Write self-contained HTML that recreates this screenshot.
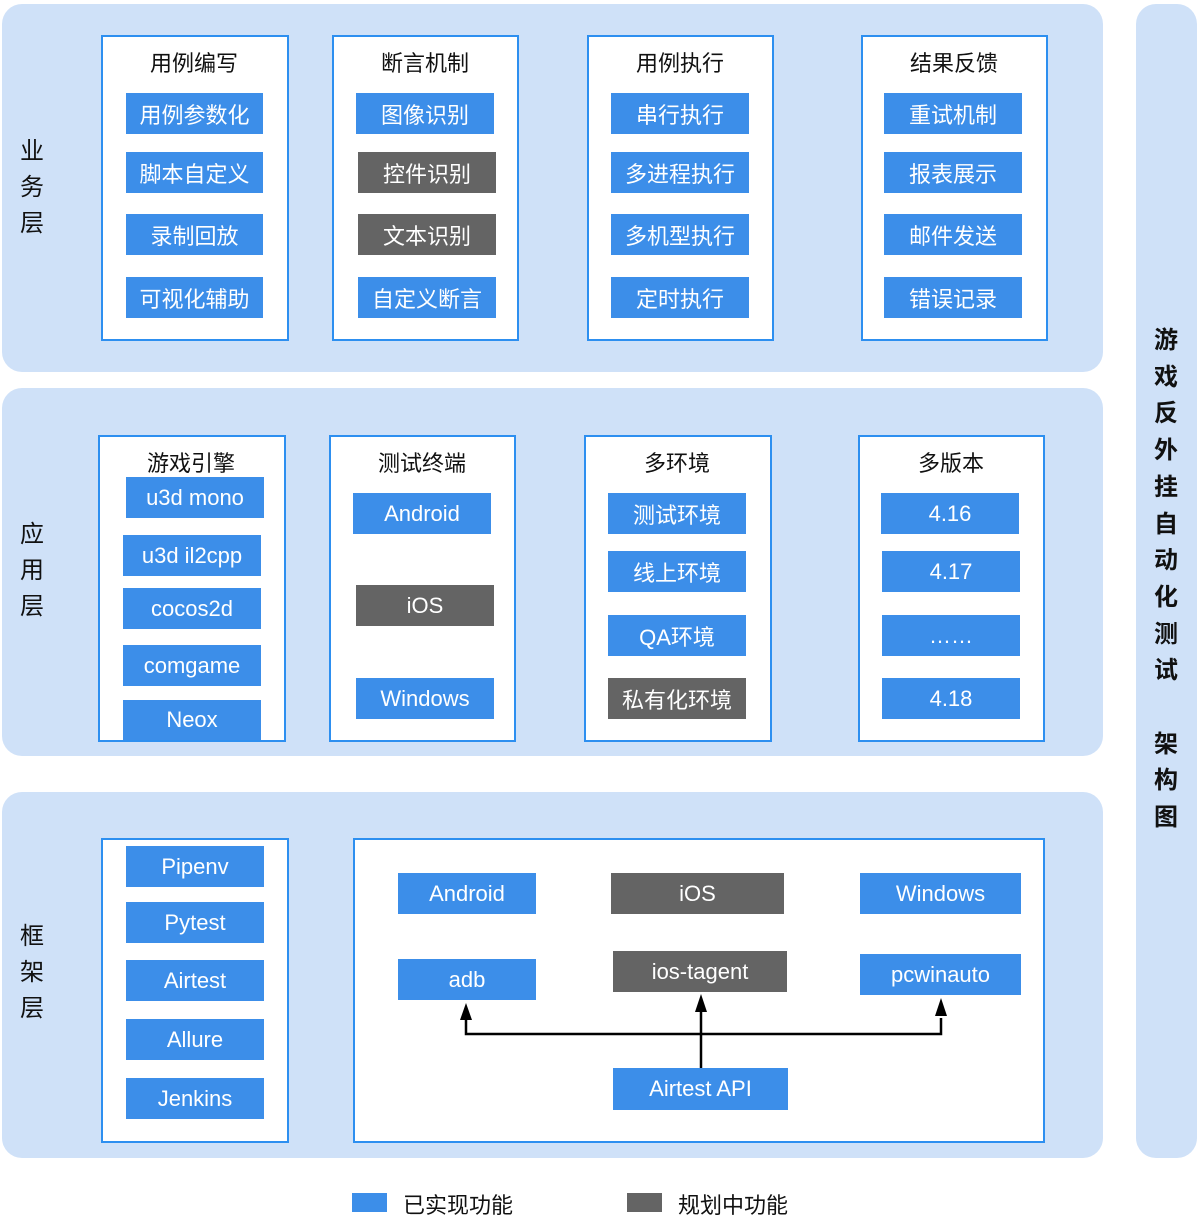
<!DOCTYPE html>
<html><head><meta charset="utf-8"><style>
body{margin:0;width:1200px;height:1230px;background:#fff;position:relative;overflow:hidden;font-family:"Liberation Sans","Noto Sans CJK SC",sans-serif}
div{position:absolute;box-sizing:border-box}
.band{background:#cfe1f8;border-radius:20px}
.col{background:#fff;border:2px solid #2d8ff0}
.b,.g{color:#fff;font-size:22px;display:flex;align-items:center;justify-content:center}
.b{background:#3c8ee9}.g{background:#646464}
.t{font-size:22px;color:#111;text-align:center;width:186px}
.lab{font-size:24px;color:#111;width:40px;text-align:center;line-height:36px}
.rl{font-size:24px;font-weight:bold;color:#111;width:60px;text-align:center;line-height:36.7px}
</style></head><body>
<div class="band" style="left:2px;top:4px;width:1101px;height:368px"></div>
<div class="band" style="left:2px;top:388px;width:1101px;height:368px"></div>
<div class="band" style="left:2px;top:792px;width:1101px;height:366px"></div>
<div class="band" style="left:1136px;top:4px;width:61px;height:1154px"></div>

<div class="lab" style="left:12px;top:134px">业<br>务<br>层</div>
<div class="lab" style="left:12px;top:517px">应<br>用<br>层</div>
<div class="lab" style="left:12px;top:919px">框<br>架<br>层</div>
<div class="rl" style="left:1136px;top:323px">游<br>戏<br>反<br>外<br>挂<br>自<br>动<br>化<br>测<br>试<br>&nbsp;<br>架<br>构<br>图</div>

<!-- business -->
<div class="col" style="left:101px;top:35px;width:188px;height:306px"></div>
<div class="t" style="left:101px;top:46px">用例编写</div>
<div class="b" style="left:126px;top:93px;width:137px;height:41px">用例参数化</div>
<div class="b" style="left:126px;top:152px;width:137px;height:41px">脚本自定义</div>
<div class="b" style="left:126px;top:214px;width:137px;height:41px">录制回放</div>
<div class="b" style="left:126px;top:277px;width:137px;height:41px">可视化辅助</div>

<div class="col" style="left:332px;top:35px;width:187px;height:306px"></div>
<div class="t" style="left:332px;top:46px">断言机制</div>
<div class="b" style="left:356px;top:93px;width:138px;height:41px">图像识别</div>
<div class="g" style="left:358px;top:152px;width:138px;height:41px">控件识别</div>
<div class="g" style="left:358px;top:214px;width:138px;height:41px">文本识别</div>
<div class="b" style="left:358px;top:277px;width:138px;height:41px">自定义断言</div>

<div class="col" style="left:587px;top:35px;width:187px;height:306px"></div>
<div class="t" style="left:587px;top:46px">用例执行</div>
<div class="b" style="left:611px;top:93px;width:138px;height:41px">串行执行</div>
<div class="b" style="left:611px;top:152px;width:138px;height:41px">多进程执行</div>
<div class="b" style="left:611px;top:214px;width:138px;height:41px">多机型执行</div>
<div class="b" style="left:611px;top:277px;width:138px;height:41px">定时执行</div>

<div class="col" style="left:861px;top:35px;width:187px;height:306px"></div>
<div class="t" style="left:861px;top:46px">结果反馈</div>
<div class="b" style="left:884px;top:93px;width:138px;height:41px">重试机制</div>
<div class="b" style="left:884px;top:152px;width:138px;height:41px">报表展示</div>
<div class="b" style="left:884px;top:214px;width:138px;height:41px">邮件发送</div>
<div class="b" style="left:884px;top:277px;width:138px;height:41px">错误记录</div>

<!-- application -->
<div class="col" style="left:98px;top:435px;width:188px;height:307px"></div>
<div class="t" style="left:98px;top:446px">游戏引擎</div>
<div class="b" style="left:126px;top:477px;width:138px;height:41px">u3d mono</div>
<div class="b" style="left:123px;top:535px;width:138px;height:41px">u3d il2cpp</div>
<div class="b" style="left:123px;top:588px;width:138px;height:41px">cocos2d</div>
<div class="b" style="left:123px;top:645px;width:138px;height:41px">comgame</div>
<div class="b" style="left:123px;top:700px;width:138px;height:40px">Neox</div>

<div class="col" style="left:329px;top:435px;width:187px;height:307px"></div>
<div class="t" style="left:329px;top:446px">测试终端</div>
<div class="b" style="left:353px;top:493px;width:138px;height:41px">Android</div>
<div class="g" style="left:356px;top:585px;width:138px;height:41px">iOS</div>
<div class="b" style="left:356px;top:678px;width:138px;height:41px">Windows</div>

<div class="col" style="left:584px;top:435px;width:188px;height:307px"></div>
<div class="t" style="left:584px;top:446px">多环境</div>
<div class="b" style="left:608px;top:493px;width:138px;height:41px">测试环境</div>
<div class="b" style="left:608px;top:551px;width:138px;height:41px">线上环境</div>
<div class="b" style="left:608px;top:615px;width:138px;height:41px">QA环境</div>
<div class="g" style="left:608px;top:678px;width:138px;height:41px">私有化环境</div>

<div class="col" style="left:858px;top:435px;width:187px;height:307px"></div>
<div class="t" style="left:858px;top:446px">多版本</div>
<div class="b" style="left:881px;top:493px;width:138px;height:41px">4.16</div>
<div class="b" style="left:882px;top:551px;width:138px;height:41px">4.17</div>
<div class="b" style="left:882px;top:615px;width:138px;height:41px">……</div>
<div class="b" style="left:882px;top:678px;width:138px;height:41px">4.18</div>

<!-- framework -->
<div class="col" style="left:101px;top:838px;width:188px;height:305px"></div>
<div class="b" style="left:126px;top:846px;width:138px;height:41px">Pipenv</div>
<div class="b" style="left:126px;top:902px;width:138px;height:41px">Pytest</div>
<div class="b" style="left:126px;top:960px;width:138px;height:41px">Airtest</div>
<div class="b" style="left:126px;top:1019px;width:138px;height:41px">Allure</div>
<div class="b" style="left:126px;top:1078px;width:138px;height:41px">Jenkins</div>

<div class="col" style="left:353px;top:838px;width:692px;height:305px"></div>
<div class="b" style="left:398px;top:873px;width:138px;height:41px">Android</div>
<div class="g" style="left:611px;top:873px;width:173px;height:41px">iOS</div>
<div class="b" style="left:860px;top:873px;width:161px;height:41px">Windows</div>
<div class="b" style="left:398px;top:959px;width:138px;height:41px">adb</div>
<div class="g" style="left:613px;top:951px;width:174px;height:41px">ios-tagent</div>
<div class="b" style="left:860px;top:954px;width:161px;height:41px">pcwinauto</div>
<div class="b" style="left:613px;top:1068px;width:175px;height:42px">Airtest API</div>
<svg style="position:absolute;left:0;top:0" width="1200" height="1230">
<g stroke="#000" stroke-width="2.5" fill="none">
<polyline points="466,1018 466,1034 941,1034 941,1018"/>
<line x1="701" y1="1068" x2="701" y2="1010"/>
</g>
<g fill="#000">
<polygon points="466,1003 460,1020 472,1020"/>
<polygon points="701,994 695,1012 707,1012"/>
<polygon points="941,998 935,1016 947,1016"/>
</g>
</svg>

<!-- legend -->
<div style="left:352px;top:1193px;width:35px;height:19px;background:#3c8ee9"></div>
<div style="left:403px;top:1188px;font-size:22px;color:#111">已实现功能</div>
<div style="left:627px;top:1193px;width:35px;height:19px;background:#646464"></div>
<div style="left:678px;top:1188px;font-size:22px;color:#111">规划中功能</div>
</body></html>
